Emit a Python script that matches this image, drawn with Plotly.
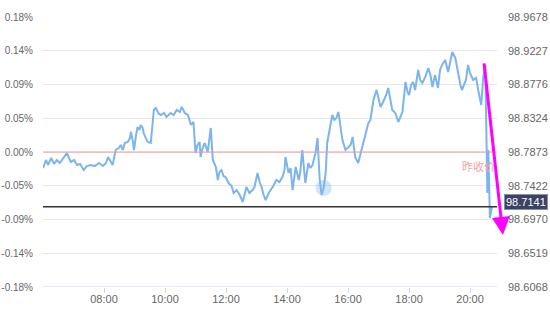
import plotly.graph_objects as go

# ---- data ----
prev_close = 98.7873
last_price = 98.7141

times = ["06:00","06:06","06:10","06:16","06:22","06:27","06:33","06:39","06:47","06:51",
         "06:55","07:01","07:07","07:13","07:20","07:26","07:34","07:42","07:50","07:58",
         "08:04","08:08","08:13","08:17","08:23","08:29","08:33","08:37","08:41","08:47",
         "08:51","08:53","08:57","08:59","09:03","09:06","09:10","09:12","09:16","09:18",
         "09:22","09:26","09:32","09:36","09:38","09:42","09:48","09:52","09:58","10:03",
         "10:11","10:17","10:23","10:29","10:33","10:39","10:45","10:51","10:56","11:00",
         "11:04","11:08","11:10","11:14","11:18","11:24","11:30","11:34","11:40","11:44",
         "11:47","11:51","11:55","11:59","12:05","12:11","12:15","12:21","12:27","12:33",
         "12:37","12:40","12:46","12:52","12:56","13:02","13:06","13:10","13:14","13:18",
         "13:24","13:28","13:33","13:39","13:45","13:51","13:55","13:57","14:03","14:07",
         "14:11","14:17","14:23","14:26","14:30","14:36","14:42","14:46","14:50","14:56",
         "15:00","15:04","15:08","15:12","15:16","15:19","15:25","15:29","15:33","15:37",
         "15:41","15:45","15:49","15:55","16:01","16:05","16:09","16:14","16:20","16:24",
         "16:28","16:34","16:40","16:44","16:50","16:56","17:00","17:04","17:09","17:15",
         "17:19","17:23","17:27","17:33","17:39","17:43","17:47","17:53","17:57","18:00",
         "18:04","18:08","18:12","18:18","18:22","18:26","18:32","18:38","18:42","18:46",
         "18:51","18:57","19:01","19:05","19:11","19:17","19:21","19:25","19:31","19:37",
         "19:41","19:44","19:48","19:52","19:56","20:00","20:06","20:12","20:16","20:20",
         "20:22","20:26","20:30","20:34","20:36","20:39","20:43"]

pct_change = [-0.0217,-0.0108,-0.0176,-0.0081,-0.0162,-0.0108,-0.0149,-0.0095,-0.0014,-0.0081,
              -0.0135,-0.0108,-0.0176,-0.0162,-0.0244,-0.0190,-0.0176,-0.0190,-0.0149,-0.0190,
              -0.0149,-0.0068,-0.0135,-0.0176,0.0027,0.0054,0.0095,0.0027,0.0122,0.0135,
              0.0190,0.0271,0.0135,0.0027,0.0230,0.0339,0.0298,0.0366,0.0325,0.0257,
              0.0190,0.0135,0.0122,0.0366,0.0569,0.0596,0.0515,0.0501,0.0528,0.0474,
              0.0528,0.0501,0.0569,0.0542,0.0609,0.0528,0.0501,0.0366,0.0406,-0.0014,
              0.0095,0.0135,-0.0068,0.0054,0.0122,0.0000,0.0325,-0.0108,-0.0203,-0.0379,
              -0.0271,-0.0244,-0.0325,-0.0339,-0.0420,-0.0460,-0.0555,-0.0515,-0.0582,-0.0677,
              -0.0582,-0.0474,-0.0555,-0.0515,-0.0474,-0.0284,-0.0406,-0.0474,-0.0582,-0.0650,
              -0.0555,-0.0515,-0.0460,-0.0379,-0.0406,-0.0339,-0.0244,-0.0068,-0.0284,-0.0217,
              -0.0515,-0.0203,-0.0379,-0.0271,0.0027,-0.0420,-0.0149,-0.0217,-0.0176,-0.0014,
              0.0190,-0.0352,-0.0582,-0.0487,-0.0284,0.0122,0.0339,0.0501,0.0433,0.0460,
              0.0542,0.0366,0.0162,0.0027,0.0068,0.0095,0.0203,-0.0068,-0.0149,-0.0041,
              0.0068,0.0203,0.0393,0.0433,0.0704,0.0839,0.0704,0.0609,0.0677,0.0772,
              0.0867,0.0704,0.0569,0.0528,0.0406,0.0474,0.0542,0.0948,0.0812,0.0772,
              0.0907,0.0948,0.0839,0.1110,0.0975,0.0934,0.1016,0.1137,0.1043,0.0880,
              0.1043,0.0867,0.1110,0.1178,0.1246,0.1083,0.1246,0.1354,0.1273,0.1016,
              0.0907,0.0839,0.0907,0.0975,0.1178,0.1070,0.0975,0.1002,0.0839,0.0731,
              0.0636,0.1016,0.1178,-0.0555,0.0027,-0.0894,-0.0741]

pct_ticks = [-0.1827, -0.1371, -0.0914, -0.0457, 0.0, 0.0457, 0.0914, 0.1371, 0.1827]
pct_labels = ["-0.18%", "-0.14%", "-0.09%", "-0.05%", "0.00%", "0.05%", "0.09%", "0.14%", "0.18%"]
price_ticks = [98.6068, 98.6519, 98.6970, 98.7422, 98.7873, 98.8324, 98.8776, 98.9227, 98.9678]
x_ticks = ["08:00", "10:00", "12:00", "14:00", "16:00", "18:00", "20:00"]
x_start, x_end = "06:00", "20:53"
marker_time = "15:12"

day = "2024-01-08 "
xs = [day + t for t in times]
line_color = "#7cb5ec"
font_family = "Arial, Liberation Sans, sans-serif"

fig = go.Figure()
fig.add_trace(go.Scatter(x=xs, y=pct_change, mode="lines",
                         line=dict(color=line_color, width=2), hoverinfo="skip",
                         showlegend=False))
mi = times.index(marker_time)
fig.add_trace(go.Scatter(x=[xs[mi]], y=[pct_change[mi]], mode="markers",
                         marker=dict(size=16, color="rgba(124,181,236,0.35)"),
                         showlegend=False, hoverinfo="skip"))
# invisible trace for right axis
fig.add_trace(go.Scatter(x=[xs[0]], y=[prev_close], yaxis="y2", mode="markers",
                         marker=dict(opacity=0), showlegend=False, hoverinfo="skip"))

fig.update_layout(
    width=550, height=311,
    margin=dict(l=43, r=53, t=17, b=24, autoexpand=False),
    paper_bgcolor="white", plot_bgcolor="white",
    font=dict(family=font_family, size=11, color="#666666"),
    xaxis=dict(type="date", range=[day + x_start, day + x_end],
               tickvals=[day + t for t in x_ticks], ticktext=x_ticks,
               showgrid=False, zeroline=False, automargin=False,
               showline=False, ticks="outside", ticklen=5, tickcolor="#ccd6eb",
               ticklabelstandoff=-3,
               tickfont=dict(size=11, color="#666666")),
    yaxis=dict(range=[pct_ticks[0], pct_ticks[-1]], tickvals=pct_ticks, ticktext=pct_labels,
               showgrid=True, gridcolor="#e6e6e6", gridwidth=1, zeroline=False,
               showline=False, ticks="", ticklabelstandoff=9, automargin=False,
               tickfont=dict(size=10, color="#666666")),
    yaxis2=dict(range=[price_ticks[0], price_ticks[-1]], tickvals=price_ticks,
                ticktext=[f"{p:.4f}" for p in price_ticks],
                overlaying="y", side="right", showgrid=False, zeroline=False,
                showline=False, ticks="", ticklabelstandoff=10, automargin=False),
)

# bottom axis line
fig.add_shape(type="line", xref="paper", yref="y", x0=0, x1=1,
              y0=pct_ticks[0], y1=pct_ticks[0], line=dict(color="#ccd6eb", width=1))
# previous close line
fig.add_shape(type="line", xref="paper", yref="y2", x0=0, x1=1,
              y0=prev_close, y1=prev_close, line=dict(color="#f29b9b", width=1))
# current price line
fig.add_shape(type="line", xref="paper", yref="y2", x0=0, x1=1,
              y0=last_price, y1=last_price, line=dict(color="#333333", width=1.5))

fig.add_annotation(text="昨收价", xref="paper", yref="y2", x=1.0, y=prev_close,
                   xanchor="right", yanchor="top", yshift=-4, showarrow=False,
                   font=dict(size=11, color="#f4a3a3",
                             family="Noto Sans CJK SC, sans-serif"))
fig.add_annotation(text=f"{last_price:.4f}", xref="paper", yref="y2", x=1.015, y=last_price,
                   xanchor="left", yanchor="middle", yshift=5, showarrow=False,
                   bgcolor="#3b4263", bordercolor="#8a90a8", borderwidth=1, borderpad=1,
                   font=dict(size=11, color="white", family=font_family))

# magenta arrow
fig.add_annotation(x=1.013, y=0.193, xref="paper", yref="paper", ax=-19, ay=-173,
                   axref="pixel", ayref="pixel", text="", showarrow=True,
                   arrowhead=2, arrowsize=1.2, arrowwidth=3, arrowcolor="#ff00ff")

fig.write_html("out.html")
